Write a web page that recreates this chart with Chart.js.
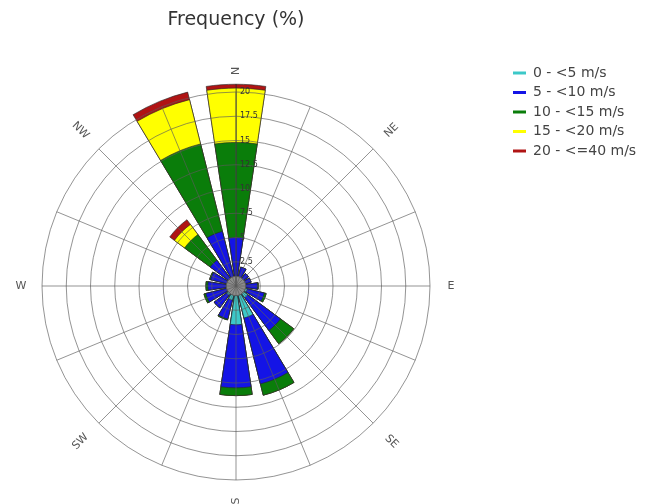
<!DOCTYPE html>
<html><head><meta charset="utf-8">
<script src="https://cdn.jsdelivr.net/npm/chart.js@4.4.1/dist/chart.umd.min.js"></script>
<style>html,body{margin:0;padding:0;background:#fff;overflow:hidden}</style>
</head><body><canvas id="c" width="653" height="504"></canvas>
<script>
const directions = ['N','NNE','NE','ENE','E','ESE','SE','SSE','S','SSW','SW','WSW','W','WNW','NW','NNW'];
const speedBins = ['0 - <5 m/s','5 - <10 m/s','10 - <15 m/s','15 - <20 m/s','20 - <=40 m/s'];
const freq0to5   = [0.8, 0.8, 0.7, 0.8, 1.0, 1.2, 1.5, 3.4, 4.0, 1.5, 1.2, 1.0, 1.0, 0.9, 0.8, 0.9];
const freq5to10  = [4.2, 1.2, 0.9, 0.8, 1.2, 1.8, 4.2, 7.0, 6.5, 2.0, 1.6, 2.2, 1.9, 1.8, 2.5, 4.9];
const freq10to15 = [9.8, 0.0, 0.0, 0.0, 0.1, 0.2, 1.7, 1.2, 0.8, 0.1, 0.0, 0.2, 0.2, 0.1, 3.3, 9.3];
const freq15to20 = [5.6, 0.0, 0.0, 0.0, 0.0, 0.0, 0.0, 0.0, 0.0, 0.0, 0.0, 0.0, 0.0, 0.0, 1.3, 4.7];
const freq20to40 = [0.4, 0.0, 0.0, 0.0, 0.0, 0.0, 0.0, 0.0, 0.0, 0.0, 0.0, 0.0, 0.0, 0.0, 0.6, 0.8];
const calm = 1.0;
const tickStep = 2.5, scaleMax = 20;

const binColors = ['#3cc8c8', '#1414e6', '#0a7d0a', '#ffff00', '#b01414'];
const bins = [freq0to5, freq5to10, freq10to15, freq15to20, freq20to40];

// stacked (cumulative) radii per direction
const cumulative = [];
let run = directions.map(() => 0);
bins.forEach(b => { run = run.map((v, i) => v + b[i]); cumulative.push(run.slice()); });

// arrange: N right half, gap, [dir, gap] x15, N left half
function spread(arr) {
  const out = [arr[0], 0];
  for (let d = 1; d < arr.length; d++) out.push(arr[d], 0);
  out.push(arr[0]);
  return out;
}
const WEDGE = 17, GAP = 5.5;
function sliceAngle(ctx) {
  const i = ctx.dataIndex;
  if (i === 0 || i === directions.length * 2) return WEDGE / 2;
  return i % 2 ? GAP : WEDGE;
}

const datasets = [{
  label: 'calm', data: [calm], backgroundColor: '#8c8c8c', borderColor: '#5a5a5a', borderWidth: 1, clip: false
}];
bins.forEach((b, k) => {
  datasets.push({
    label: speedBins[k],
    data: spread(cumulative[k]),
    backgroundColor: binColors[k],
    borderColor: 'rgba(40,40,40,0.8)',
    borderWidth: (ctx) => (ctx.raw > 0 ? 0.8 : 0),
    angle: sliceAngle,
    clip: false
  });
});

const gridColor = 'rgba(90,90,90,0.65)';

const overlay = {
  id: 'overlay',
  afterDraw(chart) {
    const s = chart.scales.r, ctx = chart.ctx;
    ctx.save();
    // radial tick labels
    ctx.font = '8px "DejaVu Sans"';
    ctx.fillStyle = '#333';
    ctx.textAlign = 'left';
    ctx.textBaseline = 'middle';
    s.ticks.forEach(t => {
      if (t.value <= 0) return;
      const d = s.getDistanceFromCenterForValue(t.value);
      ctx.fillText(t.label, s.xCenter + 4, s.yCenter - d);
    });
    // compass labels
    ctx.font = '11px "DejaVu Sans"';
    ctx.fillStyle = '#555';
    ctx.textAlign = 'center';
    directions.forEach((lab, i) => {
      if (i % 2) return;
      const deg = i * 22.5;
      const dist = (i % 4 === 0) ? s.drawingArea + 21 : s.drawingArea + 26;
      const p = s.getPointPosition(i, dist);
      const rot = deg < 180 ? deg - 90 : deg - 270;
      ctx.save();
      ctx.translate(p.x, p.y);
      ctx.rotate(rot * Math.PI / 180);
      ctx.fillText(lab, 0, 0);
      ctx.restore();
    });
    // legend
    ctx.font = '14px "DejaVu Sans"';
    ctx.textAlign = 'left';
    speedBins.forEach((lab, k) => {
      const y = 73 + k * 19.5;
      ctx.strokeStyle = binColors[k];
      ctx.lineWidth = 3;
      ctx.beginPath();
      ctx.moveTo(513, y); ctx.lineTo(526, y);
      ctx.stroke();
      ctx.fillStyle = '#444';
      ctx.fillText(lab, 533, y);
    });
    ctx.restore();
  }
};

new Chart(document.getElementById('c'), {
  type: 'polarArea',
  data: { labels: directions, datasets },
  options: {
    responsive: false,
    animation: false,
    devicePixelRatio: 1,
    layout: { padding: { left: 42, right: 223, top: 0, bottom: 24 } },
    plugins: {
      legend: { display: false },
      tooltip: { enabled: false },
      title: {
        display: true, text: 'Frequency (%)', fullSize: false, color: '#333',
        font: { family: 'DejaVu Sans', size: 19, weight: 'normal', lineHeight: 1 },
        padding: { top: 11, bottom: 62 }
      }
    },
    scales: {
      r: {
        min: 0, max: scaleMax, startAngle: 0,
        ticks: { stepSize: tickStep, display: false },
        grid: { circular: true, color: gridColor, lineWidth: 1, z: 1 },
        angleLines: { display: true, color: gridColor, lineWidth: 1 },
        pointLabels: { display: false }
      }
    }
  },
  plugins: [overlay]
});
</script>
</body></html>
